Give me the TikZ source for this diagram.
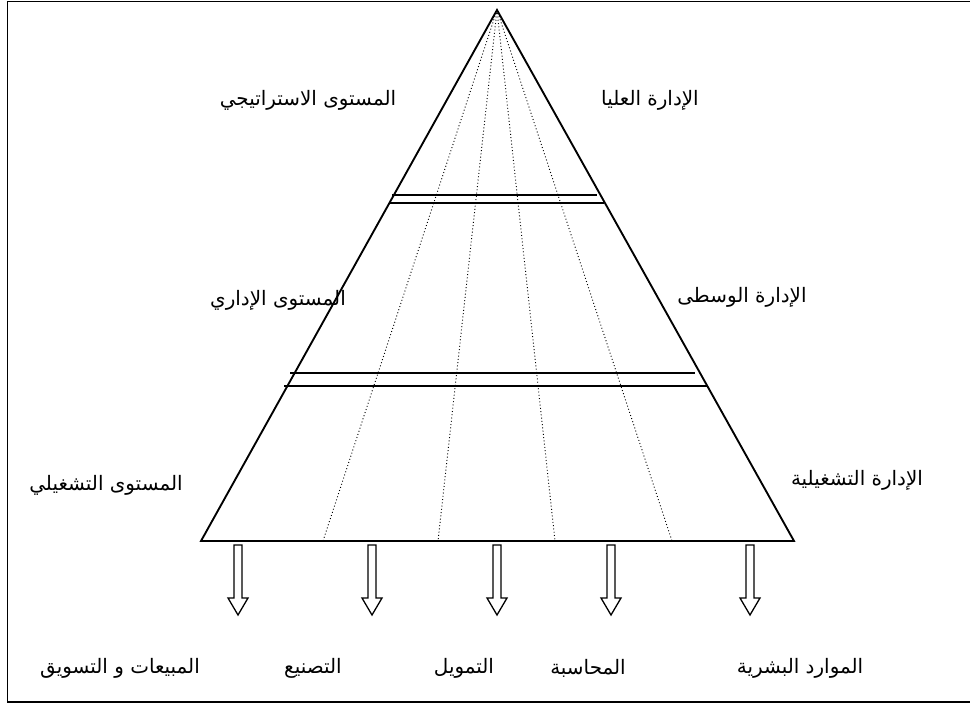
\documentclass[tikz,border=0pt]{standalone}
\usepackage{fontspec}
\newfontfamily\arabicfont[Script=Arabic]{DejaVu Sans}
\TeXXeTstate=1
\usetikzlibrary{positioning}

\begin{document}
\begin{tikzpicture}[x=0.03cm, y=-0.03cm]
    \tikzset{lvl/.style={font=\arabicfont\fontsize{17}{20}\selectfont, inner sep=0pt}}
    \useasboundingbox (0,0) rectangle (970,704);
    % Frame
    \draw[line width=1.2pt] (970,1.5) -- (7.5,1.5) -- (7.5,702) -- (970,702);

    % Pyramid
    \coordinate (top) at (497,10);
    \coordinate (bl) at (201,541);
    \coordinate (br) at (794,541);
    \draw[line width=1.6pt] (top) -- (bl) -- (br) -- cycle;

    % Functions (dotted)
    \foreach \x in {323,438,555,672}
        \draw[dotted, line width=0.8pt] (top) -- (\x,541);

    % Level separators
    \draw[line width=1.2pt] (392,195) -- (597,195);
    \draw[line width=1.2pt] (390,203) -- (604,203);
    \draw[line width=1.2pt] (290,373) -- (695,373);
    \draw[line width=1.2pt] (284,386) -- (708,386);

    % Levels
    \node[lvl] (strat) at (308,100) {\beginR المستوى الاستراتيجي\endR};
    \node[lvl] (topm) at (650,100) {\beginR الإدارة العليا\endR};
    \node[lvl] (admin) at (278,300) {\beginR المستوى الإداري\endR};
    \node[lvl] (midm) at (742,297) {\beginR الإدارة الوسطى\endR};
    \node[lvl] (oper) at (106,485) {\beginR المستوى التشغيلي\endR};
    \node[lvl] (lowm) at (857,480) {\beginR الإدارة التشغيلية\endR};

    % Functions
    \node[lvl] (sales) at (120,668) {\beginR المبيعات و التسويق\endR};
    \node[lvl] (manu) at (313,668) {\beginR التصنيع\endR};
    \node[lvl] (fin) at (464,668) {\beginR التمويل\endR};
    \node[lvl] (acc) at (588,668) {\beginR المحاسبة\endR};
    \node[lvl] (hr) at (800,668) {\beginR الموارد البشرية\endR};

    % Arrows
    \foreach \x in {238,372,497,611,750}
        \draw[line width=1.1pt] (\x-4,545) -- (\x+4,545) -- (\x+4,598) -- (\x+10,598)
            -- (\x,615) -- (\x-10,598) -- (\x-4,598) -- cycle;
\end{tikzpicture}
\end{document}
